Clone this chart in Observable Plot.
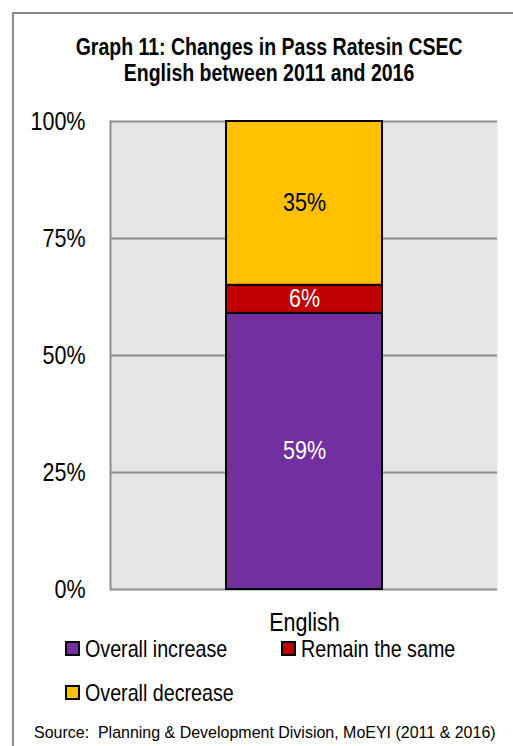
<!DOCTYPE html>
<html>
<head>
<meta charset="utf-8">
<script src="https://cdn.jsdelivr.net/npm/d3@7"></script>
<script src="https://cdn.jsdelivr.net/npm/@observablehq/plot@0.6"></script>
<style>
  html, body { margin: 0; padding: 0; background: #fff; }
  body { width: 513px; height: 746px; position: relative; overflow: hidden;
         font-family: "Liberation Sans", Arial, sans-serif; color: #000; }
  #border { position: absolute; left: 12px; top: 12px; width: 700px; height: 900px;
            border-left: 2px solid #8c8c8c; border-top: 2px solid #8c8c8c; }
  #title { position: absolute; left: 0; width: 538px; top: 34px; text-align: center;
           font-weight: bold; font-size: 23.5px; line-height: 26px; }
  .sq { display: inline-block; white-space: nowrap; transform: scaleX(0.82); }
  #title .sq { transform: scaleX(0.83); transform-origin: center; }
  #chart { position: absolute; left: 0; top: 100px; }
  .leg { position: absolute; font-size: 24px; line-height: 28px; white-space: nowrap; transform-origin: left center; }
  .sw { display: inline-block; width: 11px; height: 11px; border: 2px solid #000; margin-right: 5px; vertical-align: 1px; }
  #source { position: absolute; left: 34px; top: 722px; font-size: 17px; line-height: 22px; white-space: nowrap;
            transform: scaleX(0.94); transform-origin: left center; }
</style>
</head>
<body>
<div id="border"></div>
<div id="title"><span class="sq">Graph 11: Changes in Pass Ratesin CSEC</span><br><span class="sq">English between 2011 and 2016</span></div>
<div id="chart"></div>
<div id="legend"></div>
<div id="source">Source:&nbsp; Planning &amp; Development Division, MoEYI (2011 &amp; 2016)</div>
<script>
const subjects = ["English"];
const categories = ["Overall increase", "Remain the same", "Overall decrease"];
const values = [59, 6, 35];
const colors = ["#7030a0", "#c00000", "#ffc000"];
const labelColors = ["white", "white", "black"];
const yTicks = [0, 25, 50, 75, 100];

const rows = categories.map((c, i) => ({subject: subjects[0], category: c, value: values[i], label: labelColors[i]}));

const fontFamily = "'Liberation Sans', Arial, sans-serif";

const chart = Plot.plot({
  width: 513,
  height: 540,
  marginTop: 21,
  marginBottom: 51,
  marginLeft: 110,
  marginRight: 16,
  style: {fontFamily, fontSize: "25px", color: "#000", background: "transparent"},
  x: {domain: subjects, padding: 0.4255, label: null},
  y: {domain: [0, 100], label: null},
  color: {domain: categories, range: colors},
  marks: [
    Plot.frame({fill: "#e5e5e5", stroke: null}),
    Plot.ruleY(yTicks, {stroke: "#8c8c8c", strokeWidth: 2}),
    Plot.frame({anchor: "left", stroke: "#8c8c8c", strokeWidth: 2}),
    Plot.axisY({ticks: yTicks, tickSize: 0, tickPadding: 25, fontSize: 25, tickFormat: d => d + "%", label: null}),
    Plot.axisX({tickSize: 0, tickPadding: 24, fontSize: 25, label: null}),
    Plot.barY(rows, {x: "subject", y: "value", z: "category", fill: "category", stroke: "#000", strokeWidth: 2, order: categories}),
    Plot.text(rows, Plot.stackY({x: "subject", y: "value", z: "category", order: categories,
      text: d => d.label === "black" ? d.value + "%" : "", fill: "#000", fontSize: 25})),
    Plot.text(rows, Plot.stackY({x: "subject", y: "value", z: "category", order: categories,
      text: d => d.label === "white" ? d.value + "%" : "", fill: "#fff", fontSize: 25}))
  ]
});
document.getElementById("chart").appendChild(chart);

// condense SVG text (narrow font look)
chart.querySelectorAll("text").forEach(t => {
  const len = t.getComputedTextLength();
  if (len > 0) {
    t.setAttribute("textLength", (len * 0.86).toFixed(2));
    t.setAttribute("lengthAdjust", "spacingAndGlyphs");
  }
});

// legend (HTML, below the SVG)
const legendPos = [
  {left: 65, top: 635},
  {left: 281, top: 635},
  {left: 65, top: 679}
];
const legend = document.getElementById("legend");
categories.forEach((c, i) => {
  const d = document.createElement("div");
  d.className = "leg";
  d.style.left = legendPos[i].left + "px";
  d.style.top = legendPos[i].top + "px";
  const sw = document.createElement("span");
  sw.className = "sw";
  sw.style.background = colors[i];
  d.appendChild(sw);
  const s = document.createElement("span");
  s.className = "sq";
  s.style.transformOrigin = "left center";
  s.textContent = c;
  d.appendChild(s);
  legend.appendChild(d);
});
</script>
</body>
</html>
